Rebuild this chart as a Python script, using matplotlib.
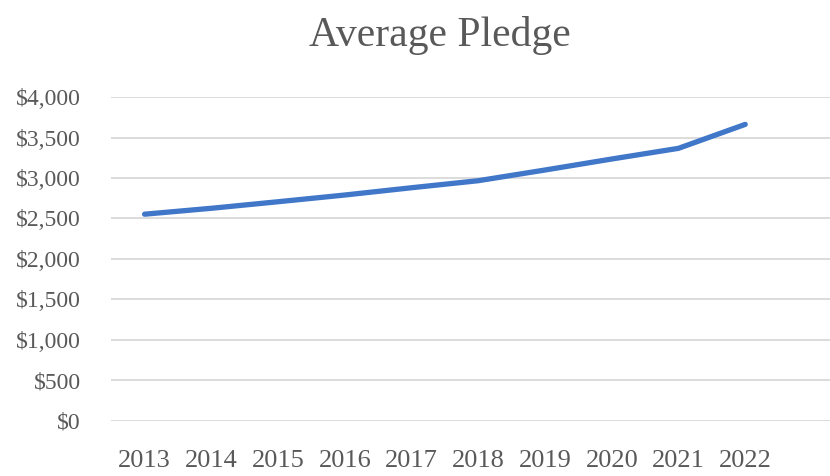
import matplotlib.pyplot as plt
from matplotlib.ticker import FuncFormatter

# Average pledge per year
years = ['2013', '2014', '2015', '2016', '2017', '2018', '2019', '2020', '2021', '2022']
pledge = [2553, 2626, 2707, 2790, 2880, 2967, 3099, 3235, 3367, 3663]

plt.rcParams['font.family'] = ['Liberation Serif', 'DejaVu Serif']
grey = '#595959'

fig = plt.figure(figsize=(8.3, 4.76), dpi=100)
ax = fig.add_axes([0.134, 0.116, 0.866, 0.68])

ax.plot(range(len(years)), pledge, color='#4077C8', lw=3.8, solid_capstyle='round')

ax.set_ylim(0, 4000)
ax.set_yticks(range(0, 4001, 500))
ax.yaxis.set_major_formatter(FuncFormatter(lambda v, p: '${:,.0f}'.format(v)))
ax.set_xlim(-0.5, 10.27)
ax.set_xticks(range(len(years)))
ax.set_xticklabels(years)

ax.grid(axis='y', color='#d9d9d9', lw=1.3)
ax.set_axisbelow(True)
for s in ax.spines.values():
    s.set_visible(False)
ax.tick_params(axis='both', length=0, colors=grey)
ax.tick_params(axis='y', pad=22, labelsize=17)
ax.tick_params(axis='x', pad=21, labelsize=19)

fig.text(0.53, 0.925, 'Average Pledge', ha='center', va='center', fontsize=30, color=grey)

fig.savefig('out.png', dpi=100)
